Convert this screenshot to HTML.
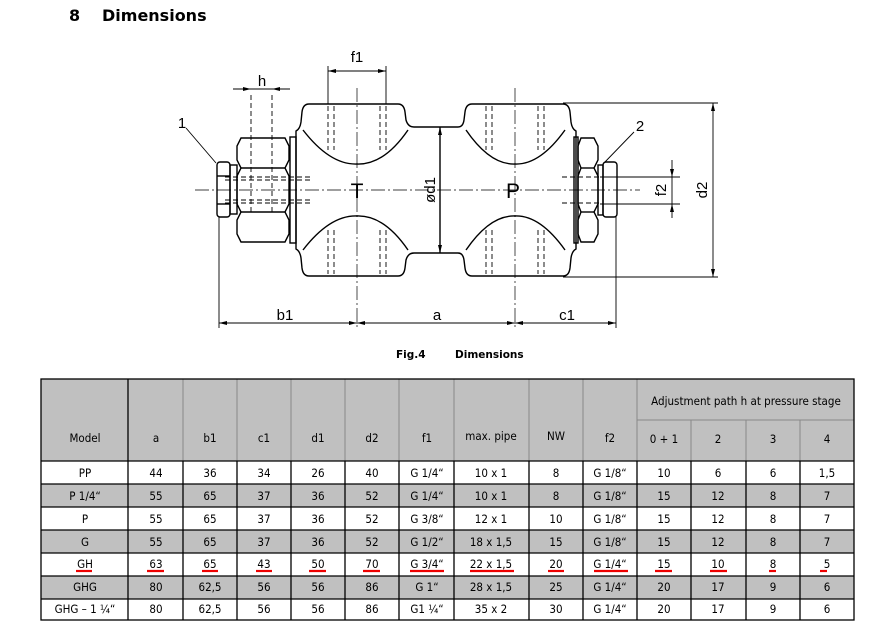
<!DOCTYPE html>
<html><head><meta charset="utf-8"><style>
html,body{margin:0;padding:0;background:#fff;width:893px;height:621px;overflow:hidden}
svg{display:block}
</style></head><body>
<svg width="893" height="621" viewBox="0 0 893 621" xmlns="http://www.w3.org/2000/svg">
<text x="69" y="21" font-family="DejaVu Sans, sans-serif" font-weight="bold" font-size="16" fill="#000">8</text>
<text x="102" y="21" font-family="DejaVu Sans, sans-serif" font-weight="bold" font-size="16" fill="#000">Dimensions</text>

<g stroke="#000" fill="none" stroke-width="1.4">
<path d="M309,104 L398,104 Q404,104 405,112 L406,120 Q408,127 414,127 L458,127 Q463,127 464,120 L465,112 Q466,104 472,104 L563,104"/>
<path d="M309,276 L398,276 Q404,276 405,268 L406,260 Q408,253 414,253 L458,253 Q463,253 464,260 L465,268 Q466,276 472,276 L563,276"/>
<path d="M309,104 Q303,104 302,112 L301,122 Q300,129 296,131 L296,249 Q300,251 301,258 L302,268 Q303,276 309,276"/>
<path d="M563,104 Q569,104 570,112 L571,122 Q572,129 576,131 L576,249 Q572,251 571,258 L570,268 Q569,276 563,276"/>
<path d="M303,130 Q330,165 357,164 Q384,165 408,130"/>
<path d="M303,250 Q330,215 357,216 Q384,215 408,250"/>
<path d="M466,130 Q490,165 515,164 Q540,165 565,130"/>
<path d="M466,250 Q490,215 515,216 Q540,215 565,250"/>
<line x1="440" y1="127" x2="440" y2="253"/>
<rect x="290" y="137" width="6" height="106"/>
<rect x="574" y="137" width="4" height="106"/>
<path d="M241,138 L285,138 L289,146 L289,160 L285,168 L289,176 L289,204 L285,212 L289,220 L289,234 L285,242 L241,242 L237,234 L237,220 L241,212 L237,204 L237,176 L241,168 L237,160 L237,146 Z"/>
<line x1="241" y1="168" x2="285" y2="168"/><line x1="241" y1="212" x2="285" y2="212"/>
<rect x="217" y="162" width="13" height="55" rx="3"/>
<rect x="230" y="165" width="7" height="49"/>
<line x1="217" y1="176" x2="230" y2="176"/><line x1="217" y1="204" x2="230" y2="204"/>
<path d="M581,138 L594,138 L598,146 L598,160 L594,168 L598,176 L598,204 L594,212 L598,220 L598,234 L594,242 L581,242 L578,234 L578,220 L581,212 L578,204 L578,176 L581,168 L578,160 L578,146 Z"/>
<line x1="581" y1="168" x2="594" y2="168"/><line x1="581" y1="212" x2="594" y2="212"/>
<rect x="598" y="165" width="5" height="50"/>
<rect x="603" y="162" width="14" height="55" rx="3"/>
</g>
<g stroke="#000" stroke-width="0.7" stroke-dasharray="14,3,2,3" fill="none">
<line x1="195" y1="190" x2="640" y2="190"/>
<line x1="357" y1="88" x2="357" y2="330"/>
<line x1="515" y1="88" x2="515" y2="330"/>
</g>
<g stroke="#000" stroke-width="0.9" stroke-dasharray="5,3" fill="none">
<line x1="328" y1="106" x2="328" y2="150"/><line x1="334" y1="106" x2="334" y2="150"/>
<line x1="380" y1="106" x2="380" y2="150"/><line x1="386" y1="106" x2="386" y2="150"/>
<line x1="328" y1="230" x2="328" y2="274"/><line x1="334" y1="230" x2="334" y2="274"/>
<line x1="380" y1="230" x2="380" y2="274"/><line x1="386" y1="230" x2="386" y2="274"/>
<line x1="486" y1="106" x2="486" y2="150"/><line x1="492" y1="106" x2="492" y2="150"/>
<line x1="538" y1="106" x2="538" y2="150"/><line x1="544" y1="106" x2="544" y2="150"/>
<line x1="486" y1="230" x2="486" y2="274"/><line x1="492" y1="230" x2="492" y2="274"/>
<line x1="538" y1="230" x2="538" y2="274"/><line x1="544" y1="230" x2="544" y2="274"/>
<line x1="225" y1="177" x2="310" y2="177"/><line x1="225" y1="203" x2="310" y2="203"/>
<line x1="225" y1="180" x2="310" y2="180"/><line x1="225" y1="200" x2="310" y2="200"/>
<line x1="562" y1="177" x2="600" y2="177"/><line x1="562" y1="203" x2="600" y2="203"/>
<line x1="251" y1="95" x2="251" y2="215"/><line x1="272" y1="95" x2="272" y2="215"/>
</g>
<g stroke="#000" stroke-width="0.9" fill="none">
<line x1="219" y1="217" x2="219" y2="328"/>
<line x1="616" y1="217" x2="616" y2="328"/>
<line x1="219" y1="323" x2="616" y2="323"/>
<line x1="328" y1="66" x2="328" y2="104"/><line x1="386" y1="66" x2="386" y2="104"/>
<line x1="328" y1="71" x2="386" y2="71"/>
<line x1="233" y1="89" x2="290" y2="89"/>
<line x1="563" y1="103" x2="718" y2="103"/>
<line x1="563" y1="277" x2="718" y2="277"/>
<line x1="713" y1="103" x2="713" y2="277"/>
<line x1="600" y1="177" x2="680" y2="177"/>
<line x1="600" y1="204" x2="680" y2="204"/>
<line x1="672" y1="160" x2="672" y2="218"/>
<line x1="186" y1="128" x2="216" y2="163"/>
<line x1="634" y1="132" x2="604" y2="163"/>
</g>
<g fill="#000">
<path d="M219,323 l8,-2 v4z M357,323 l-8,-2 v4z M357,323 l8,-2 v4z M515,323 l-8,-2 v4z M515,323 l8,-2 v4z M616,323 l-8,-2 v4z"/>
<path d="M328,71 l8,-2 v4z M386,71 l-8,-2 v4z M251,89 l-8,-2 v4z M272,89 l8,-2 v4z"/>
<path d="M713,103 l-2,8 h4z M713,277 l-2,-8 h4z M440,127 l-2,8 h4z M440,253 l-2,-8 h4z"/>
<path d="M672,177 l-2,-8 h4z M672,204 l-2,8 h4z"/>
</g>
<g font-family="Liberation Sans, sans-serif" font-size="15" fill="#000" text-anchor="middle">
<text x="357" y="62">f1</text>
<text x="262" y="86">h</text>
<text x="182" y="128">1</text>
<text x="640" y="131">2</text>
<text x="357" y="198" font-size="21">T</text>
<text x="513" y="198" font-size="21">P</text>
<text x="285" y="320">b1</text>
<text x="437" y="320">a</text>
<text x="567" y="320">c1</text>
<text transform="translate(435,190) rotate(-90)">ød1</text>
<text transform="translate(707,190) rotate(-90)">d2</text>
<text transform="translate(666,190) rotate(-90)">f2</text>
</g>
<text x="396" y="358" font-family="DejaVu Sans, sans-serif" font-weight="bold" font-size="10.5">Fig.4</text>
<text x="455" y="358" font-family="DejaVu Sans, sans-serif" font-weight="bold" font-size="10.5">Dimensions</text>

<rect x="41" y="379" width="813" height="82" fill="#c0c0c0"/>
<rect x="41" y="484" width="813" height="23" fill="#c0c0c0"/>
<rect x="41" y="530" width="813" height="23" fill="#c0c0c0"/>
<rect x="41" y="576" width="813" height="23" fill="#c0c0c0"/>
<g stroke="#888" stroke-width="1">
<line x1="128" y1="379" x2="128" y2="461"/><line x1="183" y1="379" x2="183" y2="461"/><line x1="237" y1="379" x2="237" y2="461"/><line x1="291" y1="379" x2="291" y2="461"/><line x1="345" y1="379" x2="345" y2="461"/><line x1="399" y1="379" x2="399" y2="461"/><line x1="454" y1="379" x2="454" y2="461"/><line x1="529" y1="379" x2="529" y2="461"/><line x1="583" y1="379" x2="583" y2="461"/><line x1="637" y1="379" x2="637" y2="461"/><line x1="691" y1="420" x2="691" y2="461"/><line x1="746" y1="420" x2="746" y2="461"/><line x1="800" y1="420" x2="800" y2="461"/>
<line x1="637" y1="420" x2="854" y2="420"/>
</g>
<g stroke="#000" stroke-width="1.3" fill="none">
<rect x="41" y="379" width="813" height="241"/>
<line x1="128" y1="379" x2="128" y2="620"/>
<line x1="183" y1="461" x2="183" y2="620"/><line x1="237" y1="461" x2="237" y2="620"/><line x1="291" y1="461" x2="291" y2="620"/><line x1="345" y1="461" x2="345" y2="620"/><line x1="399" y1="461" x2="399" y2="620"/><line x1="454" y1="461" x2="454" y2="620"/><line x1="529" y1="461" x2="529" y2="620"/><line x1="583" y1="461" x2="583" y2="620"/><line x1="637" y1="461" x2="637" y2="620"/><line x1="691" y1="461" x2="691" y2="620"/><line x1="746" y1="461" x2="746" y2="620"/><line x1="800" y1="461" x2="800" y2="620"/>
<line x1="41" y1="461" x2="854" y2="461"/><line x1="41" y1="484" x2="854" y2="484"/><line x1="41" y1="507" x2="854" y2="507"/><line x1="41" y1="530" x2="854" y2="530"/><line x1="41" y1="553" x2="854" y2="553"/><line x1="41" y1="576" x2="854" y2="576"/><line x1="41" y1="599" x2="854" y2="599"/>
</g>
<g stroke="#e00" stroke-width="2.2">
<line x1="76" y1="571" x2="92" y2="571"/><line x1="147" y1="571" x2="164" y2="571"/><line x1="202" y1="571" x2="218" y2="571"/><line x1="256" y1="571" x2="272" y2="571"/><line x1="309" y1="571" x2="326" y2="571"/><line x1="363" y1="571" x2="380" y2="571"/><line x1="410" y1="571" x2="444" y2="571"/><line x1="470" y1="571" x2="514" y2="571"/><line x1="548" y1="571" x2="564" y2="571"/><line x1="594" y1="571" x2="628" y2="571"/><line x1="655" y1="571" x2="672" y2="571"/><line x1="710" y1="571" x2="727" y2="571"/><line x1="769" y1="571" x2="776" y2="571"/><line x1="820" y1="571" x2="827" y2="571"/>
</g>
<g font-family="DejaVu Sans Condensed, DejaVu Sans, sans-serif" font-size="11.5" fill="#000" text-anchor="middle">
<text x="746" y="405">Adjustment path h at pressure stage</text>
<text x="85" y="442">Model</text><text x="156" y="442">a</text><text x="210" y="442">b1</text><text x="264" y="442">c1</text><text x="318" y="442">d1</text><text x="372" y="442">d2</text><text x="427" y="442">f1</text><text x="491" y="440">max. pipe</text><text x="556" y="440">NW</text><text x="610" y="442">f2</text><text x="664" y="443">0 + 1</text><text x="718" y="443">2</text><text x="773" y="443">3</text><text x="827" y="443">4</text>
</g>
<g font-family="DejaVu Sans Condensed, DejaVu Sans, sans-serif" font-size="11.5" fill="#000" text-anchor="middle">
<text y="477"><tspan x="85">PP</tspan><tspan x="156">44</tspan><tspan x="210">36</tspan><tspan x="264">34</tspan><tspan x="318">26</tspan><tspan x="372">40</tspan><tspan x="427">G 1/4“</tspan><tspan x="491">10 x 1</tspan><tspan x="556">8</tspan><tspan x="610">G 1/8“</tspan><tspan x="664">10</tspan><tspan x="718">6</tspan><tspan x="773">6</tspan><tspan x="827">1,5</tspan></text>
<text y="500"><tspan x="85">P 1/4“</tspan><tspan x="156">55</tspan><tspan x="210">65</tspan><tspan x="264">37</tspan><tspan x="318">36</tspan><tspan x="372">52</tspan><tspan x="427">G 1/4“</tspan><tspan x="491">10 x 1</tspan><tspan x="556">8</tspan><tspan x="610">G 1/8“</tspan><tspan x="664">15</tspan><tspan x="718">12</tspan><tspan x="773">8</tspan><tspan x="827">7</tspan></text>
<text y="523"><tspan x="85">P</tspan><tspan x="156">55</tspan><tspan x="210">65</tspan><tspan x="264">37</tspan><tspan x="318">36</tspan><tspan x="372">52</tspan><tspan x="427">G 3/8“</tspan><tspan x="491">12 x 1</tspan><tspan x="556">10</tspan><tspan x="610">G 1/8“</tspan><tspan x="664">15</tspan><tspan x="718">12</tspan><tspan x="773">8</tspan><tspan x="827">7</tspan></text>
<text y="546"><tspan x="85">G</tspan><tspan x="156">55</tspan><tspan x="210">65</tspan><tspan x="264">37</tspan><tspan x="318">36</tspan><tspan x="372">52</tspan><tspan x="427">G 1/2“</tspan><tspan x="491">18 x 1,5</tspan><tspan x="556">15</tspan><tspan x="610">G 1/8“</tspan><tspan x="664">15</tspan><tspan x="718">12</tspan><tspan x="773">8</tspan><tspan x="827">7</tspan></text>
<text y="568"><tspan x="85">GH</tspan><tspan x="156">63</tspan><tspan x="210">65</tspan><tspan x="264">43</tspan><tspan x="318">50</tspan><tspan x="372">70</tspan><tspan x="427">G 3/4“</tspan><tspan x="491">22 x 1,5</tspan><tspan x="556">20</tspan><tspan x="610">G 1/4“</tspan><tspan x="664">15</tspan><tspan x="718">10</tspan><tspan x="773">8</tspan><tspan x="827">5</tspan></text>
<text y="591"><tspan x="85">GHG</tspan><tspan x="156">80</tspan><tspan x="210">62,5</tspan><tspan x="264">56</tspan><tspan x="318">56</tspan><tspan x="372">86</tspan><tspan x="427">G 1“</tspan><tspan x="491">28 x 1,5</tspan><tspan x="556">25</tspan><tspan x="610">G 1/4“</tspan><tspan x="664">20</tspan><tspan x="718">17</tspan><tspan x="773">9</tspan><tspan x="827">6</tspan></text>
<text y="613"><tspan x="85">GHG – 1 ¼“</tspan><tspan x="156">80</tspan><tspan x="210">62,5</tspan><tspan x="264">56</tspan><tspan x="318">56</tspan><tspan x="372">86</tspan><tspan x="427">G1 ¼“</tspan><tspan x="491">35 x 2</tspan><tspan x="556">30</tspan><tspan x="610">G 1/4“</tspan><tspan x="664">20</tspan><tspan x="718">17</tspan><tspan x="773">9</tspan><tspan x="827">6</tspan></text>
</g>
</svg>
</body></html>
